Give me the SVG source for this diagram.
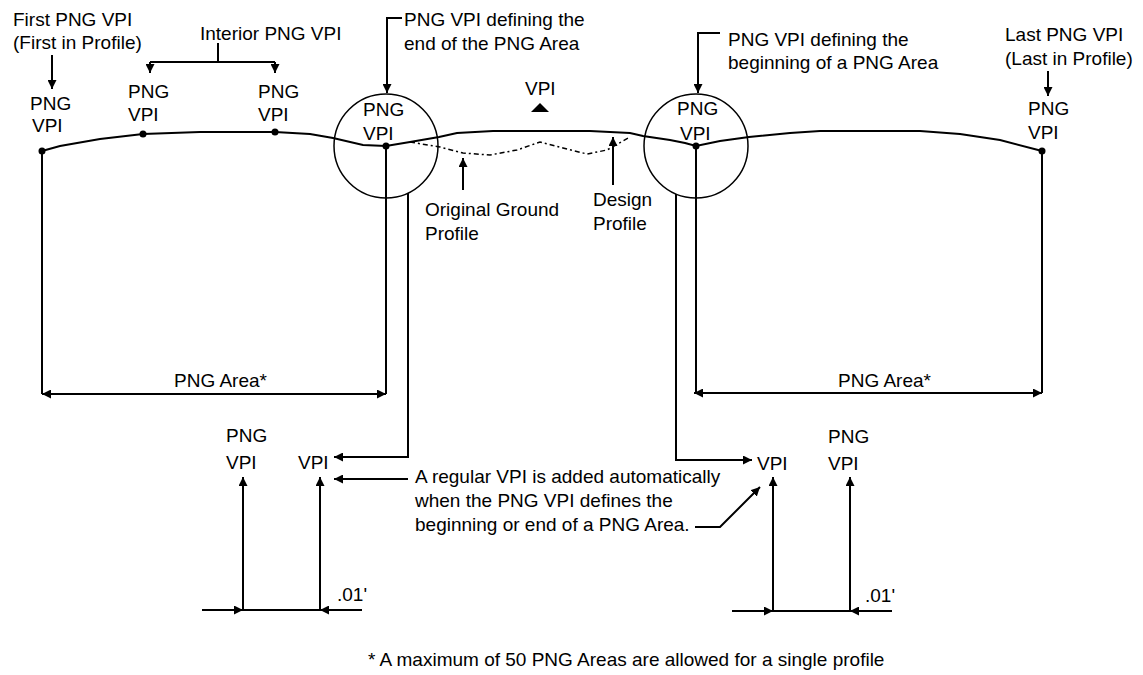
<svg xmlns="http://www.w3.org/2000/svg" width="1143" height="675" viewBox="0 0 1143 675">
<style>
text{font-family:"Liberation Sans",Arial,sans-serif;font-size:19px;fill:#000}
.ln{stroke:#000;stroke-width:2;fill:none}
.thin{stroke:#000;stroke-width:1.5;fill:none}
.dash{stroke:#000;stroke-width:1.5;fill:none;stroke-dasharray:5 3 2 3}
.dot{fill:#000}
</style>
<defs>
<marker id="ah" viewBox="0 0 10 10" refX="10" refY="5" markerWidth="9" markerHeight="9" orient="auto-start-reverse" markerUnits="userSpaceOnUse"><path d="M0,0 L10,5 L0,10 z" fill="#000"/></marker>
</defs>
<rect width="1143" height="675" fill="#fff"/>

<g id="profile">
<polyline class="ln" points="42,151 60,146 100,139 143,134 200,132 275,132 310,134 333,138 363,145 386,146 410,142 439,137 457,133 493,131 590,131 630,133 643,136 670,140 685,143 696,146 720,141 749,137 790,133 820,131 920,131 960,134 1000,140 1042,151"/>
<polyline class="dash" points="410,142 440,147 463,153 490,155 517,150 540,142 563,148 587,154 607,150 630,137"/>
<circle class="thin" cx="386" cy="146" r="52"/>
<circle class="thin" cx="696" cy="146" r="52"/>
<circle class="dot" cx="42" cy="151" r="3.5"/>
<circle class="dot" cx="143" cy="134" r="3.5"/>
<circle class="dot" cx="275" cy="132" r="3.5"/>
<circle class="dot" cx="386" cy="146" r="3.5"/>
<circle class="dot" cx="696" cy="146" r="3.5"/>
<circle class="dot" cx="1042" cy="151" r="3.5"/>
<polygon points="540,103 531,112 549,112" fill="#000"/>
</g>

<g id="connectors">
<path class="ln" d="M52,55 V89" marker-end="url(#ah)"/>
<path class="ln" d="M218,43 V62 M150,62 H275"/>
<path class="ln" d="M150,62 V73" marker-end="url(#ah)"/>
<path class="ln" d="M275,62 V73" marker-end="url(#ah)"/>
<path class="ln" d="M402,18 H387 V93" marker-end="url(#ah)"/>
<path class="ln" d="M720,33 H698 V93" marker-end="url(#ah)"/>
<path class="ln" d="M1048,71 V96" marker-end="url(#ah)"/>
<path class="ln" d="M463,190 V158" marker-end="url(#ah)"/>
<path class="ln" d="M613,185 V137" marker-end="url(#ah)"/>
<path class="ln" d="M42,151 V394 M386,146 V394 M696,146 V393 M1042,151 V393"/>
<path class="ln" d="M42,394 H386" marker-start="url(#ah)" marker-end="url(#ah)"/>
<path class="ln" d="M694,393 H1042" marker-start="url(#ah)" marker-end="url(#ah)"/>
<path class="ln" d="M408,193 V457 H334" marker-end="url(#ah)"/>
<path class="ln" d="M676,194 V460 H752" marker-end="url(#ah)"/>
<path class="ln" d="M408,479 H334" marker-end="url(#ah)"/>
<path class="ln" d="M695,527 H720 L760,487" marker-end="url(#ah)"/>
<path class="ln" d="M243,610 V477" marker-end="url(#ah)"/>
<path class="ln" d="M320,610 V477" marker-end="url(#ah)"/>
<path class="ln" d="M202,610 H243" marker-end="url(#ah)"/>
<path class="ln" d="M243,610 H320"/>
<path class="ln" d="M362,610 H320" marker-end="url(#ah)"/>
<path class="ln" d="M773,611 V477" marker-end="url(#ah)"/>
<path class="ln" d="M850,611 V477" marker-end="url(#ah)"/>
<path class="ln" d="M732,611 H773" marker-end="url(#ah)"/>
<path class="ln" d="M773,611 H850"/>
<path class="ln" d="M892,611 H850" marker-end="url(#ah)"/>
</g>

<g id="first-png-vpi">
<text x="13" y="26">First PNG VPI</text>
<text x="13" y="49">(First in Profile)</text>
<text x="30" y="110">PNG</text>
<text x="32" y="132">VPI</text>
</g>
<g id="interior-png-vpi">
<text x="200" y="40">Interior PNG VPI</text>
<text x="128" y="98">PNG</text>
<text x="128" y="121">VPI</text>
<text x="258" y="98">PNG</text>
<text x="258" y="121">VPI</text>
</g>
<g id="end-png-vpi">
<text x="404" y="26">PNG VPI defining the</text>
<text x="404" y="50">end of the PNG Area</text>
<text x="363" y="116">PNG</text>
<text x="363" y="140">VPI</text>
</g>
<g id="vpi">
<text x="525" y="95">VPI</text>
</g>
<g id="begin-png-vpi">
<text x="728" y="46">PNG VPI defining the</text>
<text x="728" y="69">beginning of a PNG Area</text>
<text x="677" y="115">PNG</text>
<text x="680" y="140">VPI</text>
</g>
<g id="last-png-vpi">
<text x="1005" y="41">Last PNG VPI</text>
<text x="1005" y="65">(Last in Profile)</text>
<text x="1028" y="115">PNG</text>
<text x="1028" y="139">VPI</text>
</g>
<g id="original-ground">
<text x="425" y="216">Original Ground</text>
<text x="425" y="240">Profile</text>
</g>
<g id="design-profile">
<text x="593" y="206">Design</text>
<text x="593" y="230">Profile</text>
</g>
<g id="png-area-left">
<text x="174" y="387">PNG Area*</text>
</g>
<g id="png-area-right">
<text x="838" y="387">PNG Area*</text>
</g>
<g id="lower-left">
<text x="226" y="442">PNG</text>
<text x="226" y="469">VPI</text>
<text x="298" y="469">VPI</text>
<text x="337" y="601">.01'</text>
</g>
<g id="note">
<text x="415" y="483">A regular VPI is added automatically</text>
<text x="415" y="507">when the PNG VPI defines the</text>
<text x="415" y="531">beginning or end of a PNG Area.</text>
</g>
<g id="lower-right">
<text x="828" y="443">PNG</text>
<text x="828" y="470">VPI</text>
<text x="757" y="470">VPI</text>
<text x="865" y="602">.01'</text>
</g>
<g id="footnote">
<text x="368" y="666">* A maximum of 50 PNG Areas are allowed for a single profile</text>
</g>
</svg>
